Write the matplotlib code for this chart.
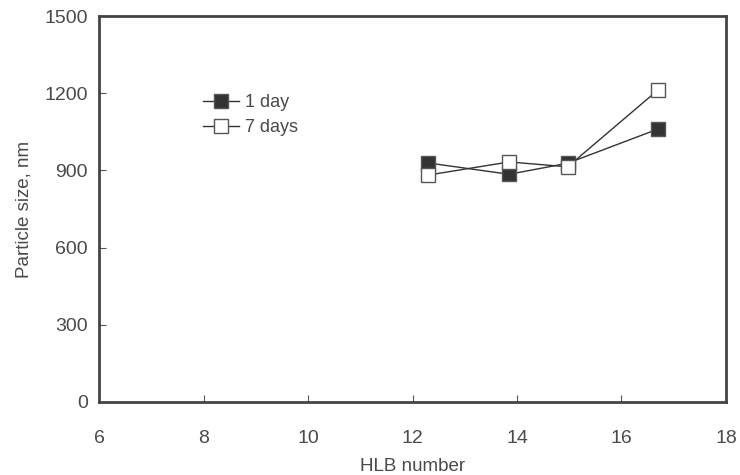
import matplotlib.pyplot as plt

plt.rcParams['font.family'] = ['Liberation Sans', 'DejaVu Sans']

# Data
hlb = [12.3, 13.85, 14.97, 16.7]
day1 = [929, 885, 928, 1061]
day7 = [882, 933, 914, 1213]

fig = plt.figure(figsize=(7.4, 4.75), dpi=100)
ax = fig.add_axes([0.134, 0.154, 0.847, 0.812])

c = '#333333'
ax.plot(hlb, day1, marker='s', color=c, markerfacecolor=c, markeredgecolor='#555555',
        markersize=10, linewidth=1, label='1 day')
ax.plot(hlb, day7, marker='s', color=c, markerfacecolor='white', markeredgecolor='#555555',
        markersize=10, linewidth=1, label='7 days')

ax.set_xlim(6, 18)
ax.set_ylim(0, 1500)
ax.set_xticks(range(6, 19, 2))
ax.set_yticks(range(0, 1501, 300))
ax.tick_params(direction='in', length=5, colors='#555555', labelcolor='#4a4a4a',
               labelsize=14)
ax.tick_params(axis='x', pad=20)
ax.tick_params(axis='y', pad=8)
for s in ax.spines.values():
    s.set_linewidth(2)
    s.set_color('#444444')

ax.set_xlabel('HLB number', fontsize=13.5, color='#4a4a4a', labelpad=8)
ax.set_ylabel('Particle size, nm', fontsize=13.5, color='#4a4a4a', labelpad=9)

ax.legend(loc='upper left', bbox_to_anchor=(0.14, 0.84), frameon=False,
          fontsize=13, handlelength=2.0, handletextpad=0.3, labelspacing=0.45,
          labelcolor='#4a4a4a')

fig.savefig('out.png')
